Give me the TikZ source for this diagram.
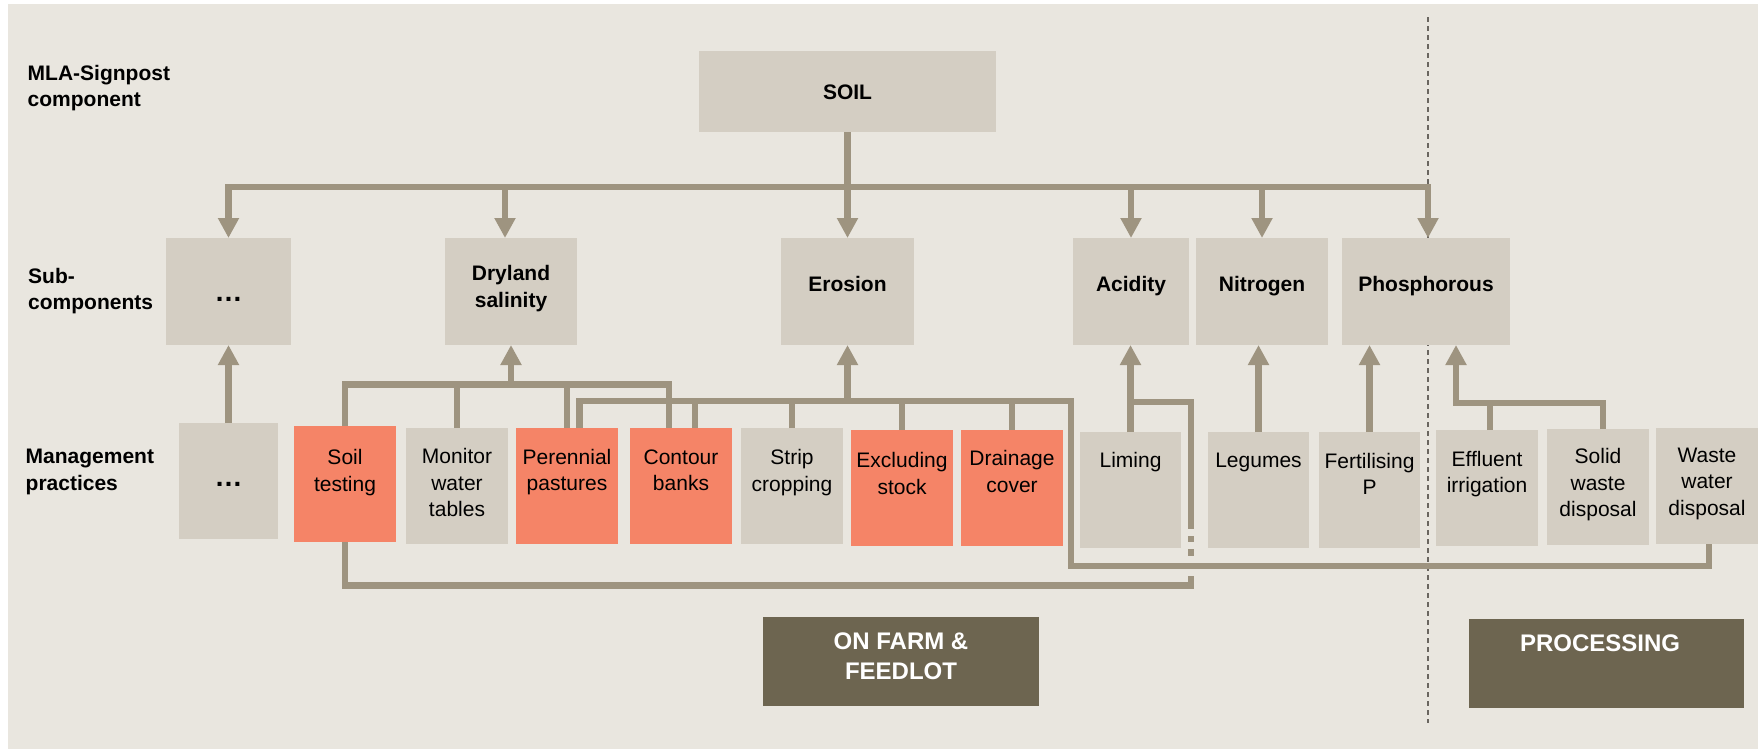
\documentclass[tikz,border=0pt]{standalone}
\usepackage{fontspec}
\setmainfont{Liberation Sans}
\usetikzlibrary{arrows.meta,fit}
\definecolor{bgc}{HTML}{E9E6DF}
\definecolor{boxc}{HTML}{D4CEC3}
\definecolor{orc}{HTML}{F58467}
\definecolor{darkc}{HTML}{6D6550}
\definecolor{linec}{HTML}{9E9480}
\definecolor{dashc}{HTML}{6A6660}
\begin{document}
\begin{tikzpicture}[x=1pt,y=-1pt,
  conn/.style={draw=linec,line width=6.5pt,line join=miter,line cap=butt},
  arr/.style={conn,-{Triangle[width=20pt,length=20pt]}},
  gbox/.style={fill=boxc,inner sep=0pt,outer sep=0pt},
  obox/.style={fill=orc,inner sep=0pt,outer sep=0pt},
  dbox/.style={fill=darkc,inner sep=0pt,outer sep=0pt},
  lbl/.style={font=\fontsize{21}{26.5}\selectfont\bfseries,align=left,anchor=north west,inner sep=0pt},
  btxt/.style={font=\fontsize{21}{26.5}\selectfont\bfseries,align=center,anchor=north,inner sep=0pt},
  mtxt/.style={font=\fontsize{21}{26.5}\selectfont,align=center,anchor=north,inner sep=0pt},
  wtxt/.style={font=\fontsize{24}{30}\selectfont\bfseries,align=center,anchor=north,inner sep=0pt,text=white},
  dotst/.style={font=\fontsize{28}{30}\selectfont\bfseries,anchor=base,inner sep=0pt},
]
\useasboundingbox (0,0) rectangle (1758,750);
\fill[white] (0,0) rectangle (1758,750);
\fill[bgc] (8,4) rectangle (1758,749);

% dashed divider
\coordinate (dtop) at (1428,17);
\coordinate (dbot) at (1428,723);
\draw[dashc,line width=1.1pt,dash pattern=on 5pt off 4pt] (dtop) -- (dbot);

% row labels
\node[lbl] (l1) at (27.5,65) {MLA-Signpost\\component};
\node[lbl] (l2) at (28,268) {Sub-\\components};
\node[lbl] (l3) at (25.5,449) {Management\\practices};

% top component
\node[gbox,fit={(699,51)(996,132)}] (soil) {};
\node[btxt] (tsoil) at (847.5,84.5) {SOIL};

% sub-components
\node[gbox,fit={(166,238)(291,345)}] (sd) {};
\node[gbox,fit={(445,238)(577,345)}] (dry) {};
\node[gbox,fit={(781,238)(914,345)}] (ero) {};
\node[gbox,fit={(1073,238)(1189,345)}] (aci) {};
\node[gbox,fit={(1196,238)(1328,345)}] (nit) {};
\node[gbox,fit={(1342,238)(1510,345)}] (pho) {};
\node[dotst] (tsd) at (228.5,301.5) {…};
\node[btxt] (tdry) at (511,265.5) {Dryland\\salinity};
\node[btxt] (tero) at (847.5,276.5) {Erosion};
\node[btxt] (taci) at (1131,276.5) {Acidity};
\node[btxt] (tnit) at (1262,276.5) {Nitrogen};
\node[btxt] (tpho) at (1426,276.5) {Phosphorous};

% management practices
\node[gbox,fit={(179,423)(278,539)}] (md) {};
\node[obox,fit={(294,426)(396,542)}] (st) {};
\node[gbox,fit={(406,428)(508,544)}] (mw) {};
\node[obox,fit={(516,428)(618,544)}] (pp) {};
\node[obox,fit={(630,428)(732,544)}] (cb) {};
\node[gbox,fit={(741,428)(843,544)}] (sc) {};
\node[obox,fit={(851,430)(953,546)}] (es) {};
\node[obox,fit={(961,430)(1063,546)}] (dc) {};
\node[gbox,fit={(1080,432)(1181,548)}] (li) {};
\node[gbox,fit={(1208,432)(1309,548)}] (le) {};
\node[gbox,fit={(1319,432)(1420,548)}] (fp) {};
\node[gbox,fit={(1436,430)(1538,546)}] (ef) {};
\node[gbox,fit={(1547,429)(1649,545)}] (sw) {};
\node[gbox,fit={(1656,428)(1758,544)}] (ww) {};

\node[dotst] (tmd) at (228.5,486.5) {…};
\node[mtxt] (tst) at (345,449.5) {Soil\\testing};
\node[mtxt] (tmw) at (457,448.5) {Monitor\\water\\tables};
\node[mtxt] (tpp) at (567,449) {Perennial\\pastures};
\node[mtxt] (tcb) at (681,449.5) {Contour\\banks};
\node[mtxt] (tsc) at (792,449.5) {Strip\\cropping};
\node[mtxt] (tes) at (902,452.5) {Excluding\\stock};
\node[mtxt] (tdc) at (1012,450.5) {Drainage\\cover};
\node[mtxt] (tli) at (1130.5,452.5) {Liming};
\node[mtxt] (tle) at (1258.5,453) {Legumes};
\node[mtxt] (tfp) at (1369.5,453) {Fertilising\\P};
\node[mtxt] (tef) at (1487,451) {Effluent\\irrigation};
\node[mtxt] (tsw) at (1598,448.5) {Solid\\waste\\disposal};
\node[mtxt] (tww) at (1707,447.5) {Waste\\water\\disposal};

% sector boxes
\node[dbox,fit={(763,617)(1039,706)}] (of) {};
\node[wtxt] (tof) at (901,633) {ON FARM \&\\FEEDLOT};
\node[dbox,fit={(1469,619)(1744,708)}] (pr) {};
\node[wtxt] (tpr) at (1600,635) {PROCESSING};

% ---- top bus ----
\coordinate (bus) at (847.5,187);
\coordinate (dryIn) at (505,238);
\coordinate (phoIn) at (1428,238);
\draw[arr] (soil.south) -- (ero.north);
\draw[arr] (bus) -| (sd.north);
\draw[arr] (bus) -| (phoIn);
\draw[arr] (dryIn |- bus) -- (dryIn);
\draw[arr] (aci.north |- bus) -- (aci.north);
\draw[arr] (nit.north |- bus) -- (nit.north);

% ---- ... ----
\draw[arr] (md.north) -- (md.north |- sd.south);

% ---- dryland salinity ----
\coordinate (dbus) at (511,384.5);
\coordinate (cbL) at (669,428);
\draw[conn] (st.north) |- (cbL |- dbus) -- (cbL);
\draw[conn] (mw.north) -- (mw.north |- dbus);
\draw[conn] (pp.north) -- (pp.north |- dbus);
\draw[arr] (dbus) -- (dry.south);

% ---- acidity loop (drawn beneath the erosion loop) ----
\coordinate (aR) at (1191,402);
\coordinate (aB) at (1191,585.5);
\draw[conn] (st.south) |- (aB) -- (aR) -- (aR -| li.north);
\fill[bgc] (1186,529) rectangle (1196,535.7);
\fill[bgc] (1186,542.3) rectangle (1196,549);
\fill[bgc] (1186,555.7) rectangle (1196,576);
\draw[arr] (li.north) -- (li.north |- aci.south);

% ---- erosion ----
\coordinate (eL) at (579.5,428);
\coordinate (eY) at (847.5,401);
\coordinate (eR) at (1071,401);
\coordinate (wwB) at (1709,544);
\coordinate (cbR) at (695,428);
\draw[conn] (eL) |- (eR) |- (wwB |- 0,566) -- (wwB);
\draw[conn] (cbR) -- (cbR |- eY);
\draw[conn] (sc.north) -- (sc.north |- eY);
\draw[conn] (es.north) -- (es.north |- eY);
\draw[conn] (dc.north) -- (dc.north |- eY);
\draw[arr] (eY) -- (ero.south);

% ---- nitrogen ----
\draw[arr] (le.north) -- (le.north |- nit.south);

% ---- phosphorous ----
\coordinate (swT) at (1603,429);
\coordinate (pY) at (1456,403);
\coordinate (efT) at (1490,430);
\draw[arr] (fp.north) -- (fp.north |- pho.south);
\draw[arr] (swT) |- (pY) -- (pY |- pho.south);
\draw[conn] (efT) -- (efT |- pY);
\end{tikzpicture}
\end{document}
